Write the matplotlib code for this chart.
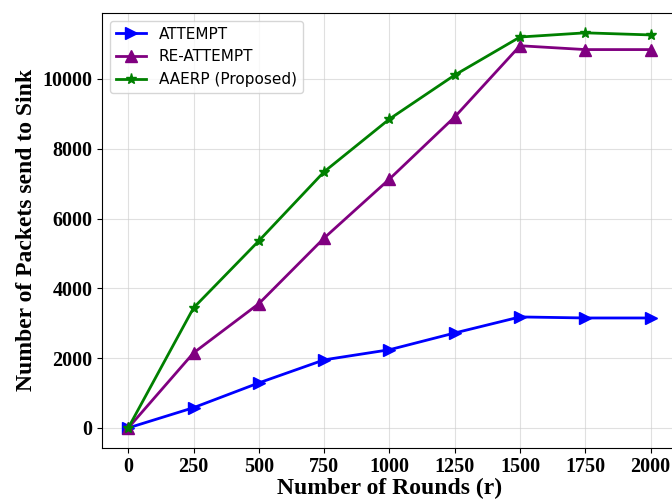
import matplotlib
matplotlib.use("Agg")
import matplotlib.pyplot as plt

rounds = [0, 250, 500, 750, 1000, 1250, 1500, 1750, 2000]
attempt = [0, 580, 1290, 1950, 2240, 2720, 3180, 3150, 3150]
re_attempt = [0, 2150, 3560, 5440, 7130, 8910, 10950, 10840, 10840]
aaerp = [0, 3440, 5360, 7340, 8850, 10110, 11200, 11320, 11260]

fig = plt.figure(figsize=(6.72, 5.03), dpi=100)
ax = fig.add_axes([0.152, 0.110, 0.855, 0.864])

ax.plot(rounds, attempt, color='blue', marker='>', markersize=8, linewidth=2, label='ATTEMPT')
ax.plot(rounds, re_attempt, color='purple', marker='^', markersize=8, linewidth=2, label='RE-ATTEMPT')
ax.plot(rounds, aaerp, color='green', marker='*', markersize=8, linewidth=2, label='AAERP (Proposed)')

ax.set_xticks(rounds)
ax.set_xlim(-100, 2100)
ax.grid(True, color='#cccccc', alpha=0.6, linewidth=0.8)

serif = {'family': 'Liberation Serif', 'weight': 'bold'}
ax.set_xlabel('Number of Rounds (r)', fontdict=dict(serif, size=17), labelpad=0)
ax.set_ylabel('Number of Packets send to Sink', fontdict=dict(serif, size=17), labelpad=4)
for lbl in ax.get_xticklabels() + ax.get_yticklabels():
    lbl.set_fontfamily('Liberation Serif')
    lbl.set_fontweight('bold')
    lbl.set_fontsize(14.5)

ax.legend(loc='upper left', fontsize=11)
fig.savefig('out.png', dpi=100)
